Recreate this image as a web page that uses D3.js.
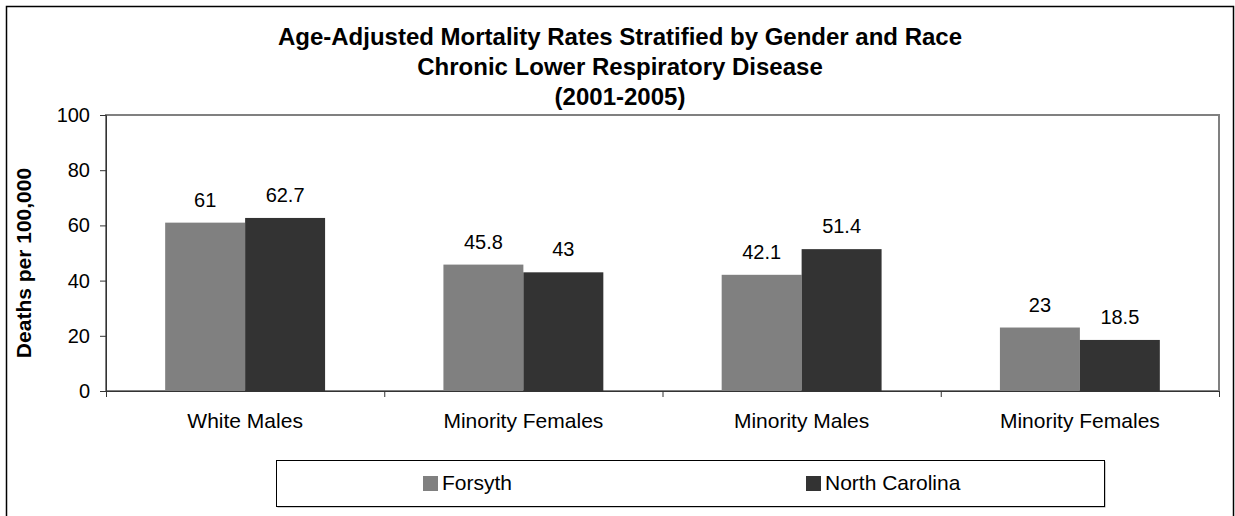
<!DOCTYPE html>
<html>
<head>
<meta charset="utf-8">
<script src="https://cdn.jsdelivr.net/npm/d3@7"></script>
<style>
  body { margin: 0; background: #fff; }
  text { font-family: Arial, "Liberation Sans", sans-serif; fill: #000; }
</style>
</head>
<body>
<svg id="chart"></svg>
<script>
// data
let categories = ["White Males", "Minority Females", "Minority Males", "Minority Females"];
let series = ["Forsyth", "North Carolina"];
let forsyth = [61, 45.8, 42.1, 23];
let northCarolina = [62.7, 43, 51.4, 18.5];
let yTicks = [0, 20, 40, 60, 80, 100];
let titleLines = [
    "Age-Adjusted Mortality Rates Stratified by Gender and Race",
    "Chronic Lower Respiratory Disease",
    "(2001-2005)"
];
let colors = ["#808080", "#333333"];

let ancho = 1235, alto = 516;
let plot = { left: 106, right: 1219, top: 115, bottom: 391 };

let svg = d3.select("#chart")
    .attr("width", ancho)
    .attr("height", alto);

svg.append("rect")
    .attr("width", ancho).attr("height", alto)
    .attr("fill", "#fff");

// outer frame (bottom edge falls outside the picture)
svg.append("rect")
    .attr("x", 6.5).attr("y", 6.5)
    .attr("width", 1227).attr("height", 530)
    .attr("fill", "none")
    .attr("stroke", "#000")
    .attr("stroke-width", 1.5);

// title
svg.append("g").selectAll("text")
    .data(titleLines)
    .enter()
    .append("text")
    .attr("x", 620)
    .attr("y", (d, i) => 45 + i * 30)
    .attr("text-anchor", "middle")
    .attr("font-weight", "bold")
    .attr("font-size", "24px")
    .text(d => d);

// scales
let y = d3.scaleLinear().domain([0, 100]).range([plot.bottom, plot.top]);
let x0 = d3.scaleBand()
    .domain(d3.range(categories.length))
    .range([plot.left, plot.right])
    .padding(0);
let x1 = d3.scaleBand()
    .domain(series)
    .range([0, x0.bandwidth()])
    .paddingInner(0)
    .paddingOuter(0.74);
let color = d3.scaleOrdinal().domain(series).range(colors);

// plot frame
svg.append("rect")
    .attr("x", plot.left).attr("y", plot.top)
    .attr("width", plot.right - plot.left)
    .attr("height", plot.bottom - plot.top)
    .attr("fill", "none")
    .attr("stroke", "#808080")
    .attr("stroke-width", 2);

// bars
let rows = categories.map((c, i) => ({
    i: i,
    values: [
        { s: series[0], v: forsyth[i] },
        { s: series[1], v: northCarolina[i] }
    ]
}));

let grupo = svg.append("g").selectAll("g")
    .data(rows)
    .enter()
    .append("g")
    .attr("transform", d => "translate(" + x0(d.i) + ",0)");

grupo.selectAll("rect")
    .data(d => d.values)
    .enter()
    .append("rect")
    .attr("x", d => x1(d.s))
    .attr("y", d => y(d.v))
    .attr("width", x1.bandwidth())
    .attr("height", d => y(0) - y(d.v))
    .attr("fill", d => color(d.s));

grupo.selectAll("text")
    .data(d => d.values)
    .enter()
    .append("text")
    .attr("x", d => x1(d.s) + x1.bandwidth() / 2)
    .attr("y", d => y(d.v) - 16)
    .attr("text-anchor", "middle")
    .attr("font-size", "20px")
    .text(d => d.v);

// y axis
let yAxis = svg.append("g")
    .attr("transform", "translate(" + plot.left + ",0)")
    .call(d3.axisLeft(y).tickValues(yTicks).tickSize(6).tickPadding(10));
yAxis.selectAll("text").attr("font-size", "20px").attr("font-family", null);
yAxis.selectAll("line, path").attr("stroke", "#333");

// x axis: ticks at category boundaries
let xb = d3.scaleLinear().domain([0, categories.length]).range([plot.left, plot.right]);
let xAxis = svg.append("g")
    .attr("transform", "translate(0," + plot.bottom + ")")
    .call(d3.axisBottom(xb).ticks(categories.length).tickSize(6).tickFormat(""));
xAxis.selectAll("line, path").attr("stroke", "#333");

svg.append("g").selectAll("text")
    .data(rows)
    .enter()
    .append("text")
    .attr("x", d => x0(d.i) + x0.bandwidth() / 2)
    .attr("y", 428)
    .attr("text-anchor", "middle")
    .attr("font-size", "21px")
    .text(d => categories[d.i]);

// y label
svg.append("text")
    .attr("transform", "translate(31,263) rotate(-90)")
    .attr("text-anchor", "middle")
    .attr("font-weight", "bold")
    .attr("font-size", "21px")
    .text("Deaths per 100,000");

// legend
let leyenda = svg.append("g").attr("transform", "translate(276,460)");
leyenda.append("rect")
    .attr("x", 1.5).attr("y", 1.5)
    .attr("width", 828).attr("height", 46)
    .attr("fill", "#999");
leyenda.append("rect")
    .attr("x", 0.5).attr("y", 0.5)
    .attr("width", 828).attr("height", 46)
    .attr("fill", "#fff")
    .attr("stroke", "#000");

let itemX = [147, 530];
let item = leyenda.selectAll(".item")
    .data(series)
    .enter()
    .append("g")
    .attr("transform", (d, i) => "translate(" + itemX[i] + ",0)");
item.append("rect")
    .attr("y", 16).attr("width", 15).attr("height", 15)
    .attr("fill", d => color(d));
item.append("text")
    .attr("x", 19).attr("y", 30)
    .attr("font-size", "21px")
    .text(d => d);
</script>
</body>
</html>
